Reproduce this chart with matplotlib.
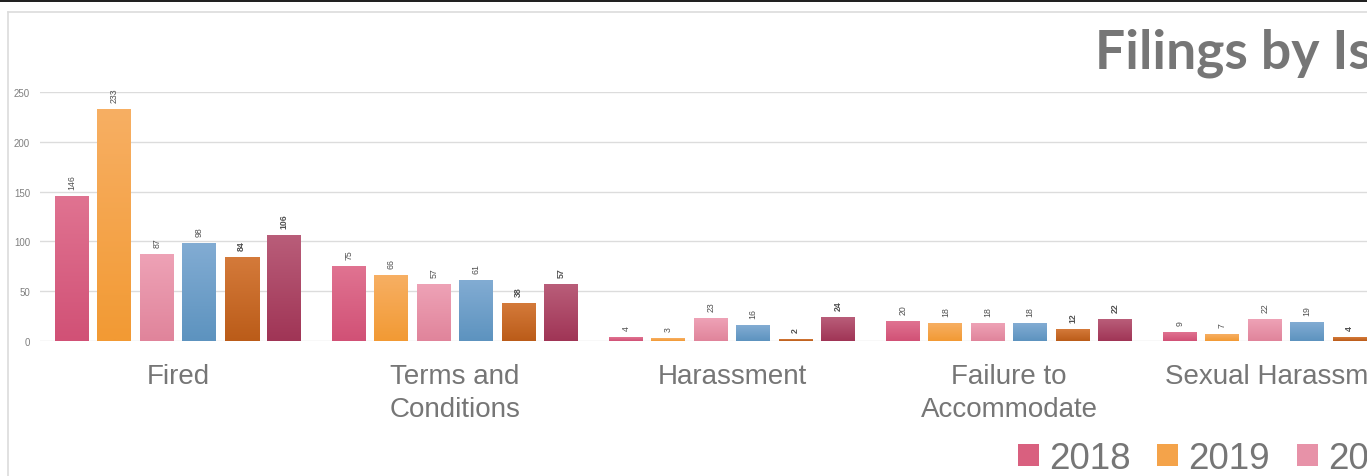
import numpy as np
import matplotlib
matplotlib.use("Agg")
import matplotlib.pyplot as plt
from matplotlib.patches import Patch, Rectangle
from matplotlib.lines import Line2D
from matplotlib.colors import to_rgb

# ---- data ----
categories = ["Fired", "Terms and\nConditions", "Harassment",
              "Failure to\nAccommodate", "Sexual Harassment"]
years = ["2018", "2019", "2020", "2021", "2022", "2023"]
v2018 = [146, 75, 4, 20, 9]
v2019 = [233, 66, 3, 18, 7]
v2020 = [87, 57, 23, 18, 22]
v2021 = [98, 61, 16, 18, 19]
v2022 = [84, 38, 2, 12, 4]
v2023 = [106, 57, 24, 22, 12]
series = [v2018, v2019, v2020, v2021, v2022, v2023]
yticks = [0, 50, 100, 150, 200, 250]

# gradient colours (top, bottom)
top_cols = ["#e07391", "#f7af63", "#eea2b6", "#82acd3", "#d47a3a", "#b95d79"]
bot_cols = ["#d15176", "#f29a34", "#e0849b", "#5d93bf", "#bb5c19", "#a03556"]
mid_cols = ["#d9607f", "#f4a34a", "#e792a8", "#6f9fc9", "#c76a28", "#ac4766"]

W, H = 1367, 477
fig = plt.figure(figsize=(W / 100, H / 100), dpi=100)
fig.patch.set_facecolor("white")

# frame decorations
fig.add_artist(Rectangle((0, 1 - 3 / H), 1, 3 / H, transform=fig.transFigure,
                         facecolor="#222222", edgecolor="none"))
fig.add_artist(Line2D([8 / W, 8 / W], [0, 1 - 13 / H], transform=fig.transFigure,
                      color="#dcdcdc", lw=1.2))
fig.add_artist(Line2D([8 / W, 1], [1 - 13 / H, 1 - 13 / H], transform=fig.transFigure,
                      color="#dcdcdc", lw=1.2))

group_px = 277.0
left_px = 39.5
ax = fig.add_axes([left_px / W, 135 / H, len(categories) * group_px / W, 249 / H])
ax.set_facecolor("none")

step = 42.4 / group_px
width = 34.0 / group_px
x = np.arange(len(categories))

for k, vals in enumerate(series):
    xs = x + (k - 2.5) * step
    bars = ax.bar(xs, vals, width=width, color=mid_cols[k], zorder=2,
                  edgecolor="none")
    c_top = np.array(to_rgb(top_cols[k]))
    c_bot = np.array(to_rgb(bot_cols[k]))
    t = np.linspace(0, 1, 64)[:, None]
    grad = (c_bot * (1 - t) + c_top * t)[:, None, :]
    for b, v in zip(bars, vals):
        x0 = b.get_x()
        im = ax.imshow(grad, extent=[x0, x0 + width, 0, v], origin="lower",
                       aspect="auto", zorder=3, interpolation="bilinear")
        im.set_clip_path(b)
        ax.annotate(str(v), (x0 + width / 2, v), xytext=(0, 5),
                    textcoords="offset points", ha="center", va="bottom",
                    rotation=90, fontsize=6.3, color="#505050",
                    fontweight="bold" if k >= 4 else "normal",
                    family="Liberation Sans", zorder=4)

ax.set_xlim(-0.5, len(categories) - 0.5)
ax.set_ylim(0, 250)
ax.set_yticks(yticks)
ax.grid(axis="y", color="#dcdcdc", lw=1, zorder=0)
ax.set_axisbelow(True)
for s in ax.spines.values():
    s.set_visible(False)
ax.tick_params(axis="y", length=0, pad=6.8, labelsize=7, labelcolor="#7f7f7f")
ax.tick_params(axis="x", length=0, pad=16)
ax.set_xticks(x)
ax.set_xticklabels(categories, fontsize=20, color="#767676",
                   family="Liberation Sans", linespacing=1.32)
for lab in ax.get_yticklabels():
    lab.set_family("Liberation Sans")

# title (cropped at right edge)
fig.text(1095 / W, 1 - 69 / H, "Filings by Issue", fontsize=38.5,
         fontweight="bold", family="Lato", color="#767676",
         ha="left", va="baseline")

# legend
handles = [Patch(facecolor=c, edgecolor="none") for c in mid_cols]
fig.legend(handles, years, loc="upper left",
           bbox_to_anchor=(1018 / W, 1 - 442 / H), ncol=6, frameon=False,
           prop={"family": "Liberation Sans", "size": 26.5},
           labelcolor="#767676", handlelength=0.57, handleheight=0.57,
           handletextpad=0.27, columnspacing=0.73, borderpad=0,
           borderaxespad=0)

fig.savefig("out.png", dpi=100)
